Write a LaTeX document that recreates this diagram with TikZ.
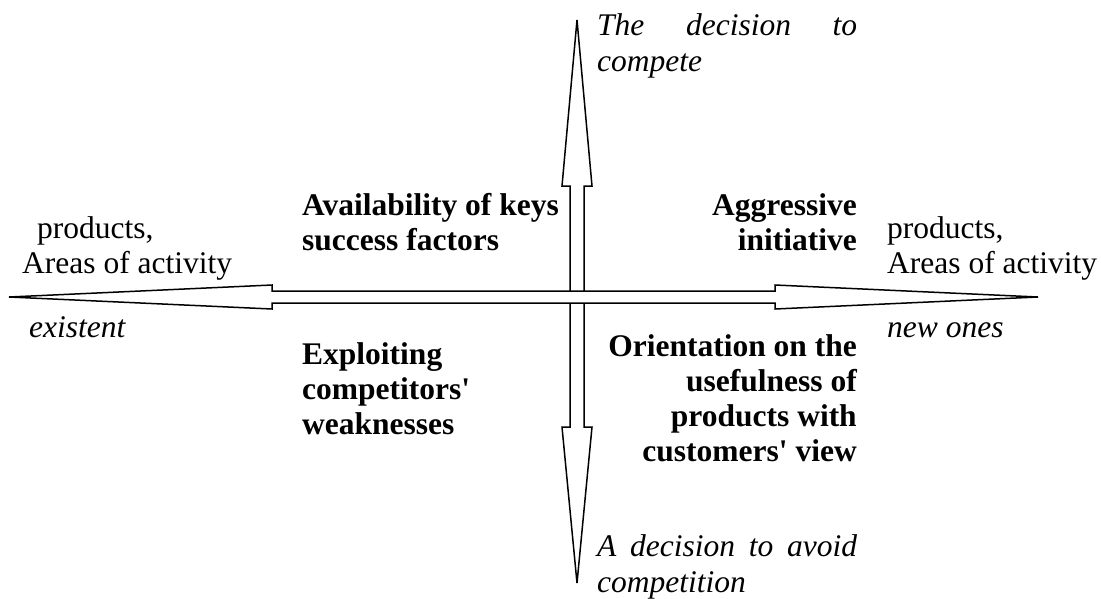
\documentclass[tikz,border=0pt]{standalone}
\usepackage{fontspec}
\setmainfont{Liberation Serif}

\begin{document}
\begin{tikzpicture}[
  x=1pt, y=-1pt,
  big_arrow/.style={draw=black, fill=white, line width=1.5pt, line join=miter},
  plain_label/.style={inner sep=0pt, font=\fontsize{31.5}{35}\selectfont},
  bold_label/.style={inner sep=0pt, font=\fontsize{31.5}{35}\selectfont\bfseries},
  slant_label/.style={inner sep=0pt, font=\fontsize{31.5}{36}\selectfont\itshape},
]
\useasboundingbox (0,0) rectangle (1101,598);
\coordinate (O) at (577,297);
% vertical axis first, the horizontal one lies over it
\draw[big_arrow] (577,20) -- (592,186) -- (584,186) -- (584,427) -- (592,427) -- (577,583)
  -- (562,427) -- (570,427) -- (570,186) -- (562,186) -- cycle;
\draw[big_arrow] (9,297) -- (272,285) -- (272,291) -- (775,291) -- (775,285) -- (1038,297)
  -- (775,309) -- (775,303) -- (272,303) -- (272,309) -- cycle;
% ends of the axes
\node (compete) [slant_label, anchor=base west, text width=260pt, align=left] at (597,35) {The\hfill decision\hfill to\\compete};
\node (avoid) [slant_label, anchor=base west, text width=260pt, align=left] at (597,556) {A\hfill decision\hfill to\hfill avoid\\competition};
\node (old_areas) [plain_label, anchor=base west, align=left] at (22,273) {\hspace*{15pt}products,\\Areas of activity};
\node (new_areas) [plain_label, anchor=base west, align=left] at (887,273) {products,\\Areas of activity};
\node (existent) [slant_label, anchor=base west] at (29,337) {existent};
\node (new_ones) [slant_label, anchor=base west] at (887,337) {new ones};
% quadrants (base = last line)
\node (keys) [bold_label, anchor=base west, align=left] at (302,250) {Availability of keys\\success factors};
\node (aggressive) [bold_label, anchor=base east, align=right] at (857,250) {Aggressive\\initiative};
\node (exploit) [bold_label, anchor=base west, align=left] at (302,434) {Exploiting\\competitors\textquotesingle\\weaknesses};
\node (orient) [bold_label, anchor=base east, align=right] at (857,461) {Orientation on the\\usefulness of\\products with\\customers\textquotesingle{} view};
\end{tikzpicture}
\end{document}
